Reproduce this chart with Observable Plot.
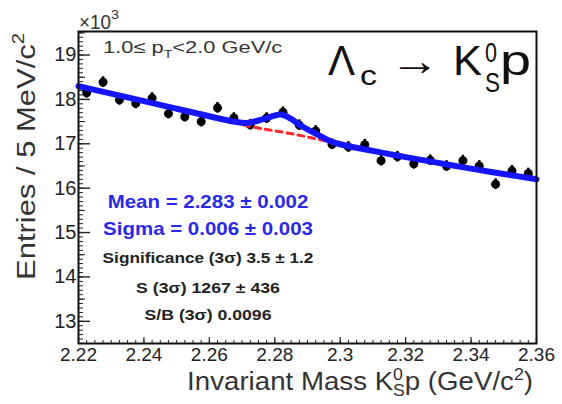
<!DOCTYPE html>
<html><head><meta charset="utf-8">
<script src="https://cdn.jsdelivr.net/npm/d3@7"></script>
<script src="https://cdn.jsdelivr.net/npm/@observablehq/plot@0.6"></script>
<style>body{margin:0;background:#fff}#chart{width:562px;height:404px}</style>
</head><body><div id="chart"></div>
<script>
// ---- data (entries in units of 10^3) ----
const binCenters = [2.2225,2.2275,2.2325,2.2375,2.2425,2.2475,2.2525,2.2575,2.2625,2.2675,2.2725,2.2775,2.2825,2.2875,
                    2.2925,2.2975,2.3025,2.3075,2.3125,2.3175,2.3225,2.3275,2.3325,2.3375,2.3425,2.3475,2.3525,2.3575];
const entries    = [18.15,18.39,17.99,17.91,18.03,17.68,17.61,17.50,17.81,17.58,17.43,17.58,17.71,17.42,
                    17.29,16.99,16.93,16.98,16.62,16.71,16.55,16.63,16.50,16.62,16.50,16.09,16.39,16.33];
const errBar = 0.12;
const fitX = [2.22,2.23,2.24,2.25,2.26,2.2675,2.2715,2.2775,2.2818,2.285,2.2875,2.2925,2.298,2.31,2.32,2.33,2.34,2.35,2.36];
const fitY = [18.30,18.13,17.96,17.79,17.62,17.50,17.47,17.58,17.66,17.56,17.43,17.23,17.03,16.84,16.70,16.57,16.44,16.32,16.20];
const bgX = [2.2705,2.276,2.2825,2.289,2.2945,2.298];
const bgY = [17.42,17.34,17.26,17.17,17.08,17.03];
const xMajorTicks = [2.22,2.24,2.26,2.28,2.30,2.32,2.34,2.36];
const xTickLabels = ["2.22","2.24","2.26","2.28","2.3","2.32","2.34","2.36"];
const yMajorTicks = [13,14,15,16,17,18,19];
const yTickLabels = ["13","14","15","16","17","18","19"];

const points = binCenters.map((x,i)=>({x, y: entries[i]}));
const fit = fitX.map((x,i)=>({x, y: fitY[i]}));
const bg = bgX.map((x,i)=>({x, y: bgY[i]}));

const FONT = "'Liberation Sans', Arial, Helvetica, sans-serif";
const W = 562, H = 404, ML = 78, MR = 26, MT = 31, MB = 61;
const FW = W - ML - MR, FH = H - MT - MB;
const xMinor = d3.range(0, 57).map(i => 2.22 + i*0.0025);
const yMinor = d3.range(0, 71).map(i => 12.5 + i*0.1).filter(v => v <= 19.53);
const yHalf = [12.5,13.5,14.5,15.5,16.5,17.5,18.5,19.5];

const chart = Plot.plot({
  width: W, height: H,
  marginLeft: ML, marginRight: MR, marginTop: MT, marginBottom: MB,
  style: {fontFamily: FONT, color: "#222", background: "#fff", overflow: "visible"},
  x: {domain: [2.22, 2.36]},
  y: {domain: [12.5, 19.53]},
  marks: [
    Plot.tickX(xMinor, {x: d=>d, insetTop: FH-3, stroke: "#222", strokeWidth: 1}),
    Plot.tickX(xMajorTicks, {x: d=>d, insetTop: FH-6, stroke: "#222", strokeWidth: 1.2}),
    Plot.tickY(yMinor, {y: d=>d, insetRight: FW-5, stroke: "#222", strokeWidth: 1}),
    Plot.tickY(yHalf, {y: d=>d, insetRight: FW-7, stroke: "#222", strokeWidth: 1}),
    Plot.tickY(yMajorTicks, {y: d=>d, insetRight: FW-12, stroke: "#222", strokeWidth: 1.4}),
    Plot.axisX({ticks: xMajorTicks, tickFormat: d => xTickLabels[xMajorTicks.indexOf(d)], tickSize: 0, tickPadding: 4, fontSize: 19, label: null}),
    Plot.axisY({ticks: yMajorTicks, tickFormat: d => yTickLabels[yMajorTicks.indexOf(d)], tickSize: 0, tickPadding: 2, fontSize: 20, label: null}),
    Plot.ruleX(points, {x: "x", y1: d => d.y - errBar, y2: d => d.y + errBar, stroke: "#000", strokeWidth: 2.5}),
    Plot.dot(points, {x: "x", y: "y", r: 4.5, fill: "#000"}),
    Plot.line(bg, {x: "x", y: "y", stroke: "#ff2a2a", strokeWidth: 3, strokeDasharray: "6,5", curve: "catmull-rom"}),
    Plot.line(fit, {x: "x", y: "y", stroke: "#1515ff", strokeWidth: 6, curve: "catmull-rom"}),
    Plot.frame({stroke: "#111", strokeWidth: 2})
  ]
});
document.getElementById("chart").append(chart);

// ---- text annotations (rich text, horizontally fitted) ----
function richText({x, y, anchor = "start", width = null, rotate = 0, size = 16, weight = "normal", fill = "#222", parts}) {
  const g = d3.select(chart).append("g").attr("transform", `translate(${x},${y}) rotate(${rotate})`);
  const t = g.append("text").attr("text-anchor", anchor).attr("font-family", FONT)
    .attr("font-size", size).attr("font-weight", weight).attr("fill", fill);
  for (const p of parts) {
    const ts = t.append("tspan").text(p.t);
    if (p.size) ts.attr("font-size", p.size);
    if (p.dy) ts.attr("dy", p.dy);
    if (p.dx) ts.attr("dx", p.dx);
  }
  if (width) {
    const w = t.node().getBBox().width;
    g.attr("transform", `translate(${x},${y}) rotate(${rotate}) scale(${width / w},1)`);
  }
}

// x10^3
richText({x: 79, y: 29, size: 20, width: 32, fill: "#333", parts: [{t: "×10"}]});
richText({x: 111, y: 19, size: 13, width: 8, fill: "#333", parts: [{t: "3"}]});
// pT range
richText({x: 103, y: 53, size: 17, width: 180, fill: "#333", parts: [
  {t: "1.0≤ p"}, {t: "T", size: 11, dy: 5}, {t: "<2.0 GeV/c", dy: -5}]});
// Title
richText({x: 328, y: 75, size: 42, width: 27, fill: "#111", parts: [{t: "Λ"}]});
richText({x: 360, y: 85, size: 28, width: 17, fill: "#111", parts: [{t: "c"}]});
richText({x: 390, y: 75, size: 42, width: 50, fill: "#111", parts: [{t: "→"}]});
richText({x: 453, y: 75, size: 42, width: 29, fill: "#111", parts: [{t: "K"}]});
richText({x: 485, y: 61.5, size: 28, width: 12, fill: "#111", parts: [{t: "0"}]});
richText({x: 485, y: 91.5, size: 28, width: 15, fill: "#111", parts: [{t: "S"}]});
richText({x: 500, y: 75, size: 42, width: 31, fill: "#111", parts: [{t: "p"}]});
// Fit results
richText({x: 208, y: 208, anchor: "middle", size: 18, weight: "bold", fill: "#2a2ae6", width: 201, parts: [{t: "Mean = 2.283 ± 0.002"}]});
richText({x: 208, y: 235, anchor: "middle", size: 18, weight: "bold", fill: "#2a2ae6", width: 210, parts: [{t: "Sigma = 0.006 ± 0.003"}]});
richText({x: 208, y: 263, anchor: "middle", size: 15, weight: "bold", fill: "#222", width: 211, parts: [{t: "Significance (3σ) 3.5 ± 1.2"}]});
richText({x: 208, y: 293, anchor: "middle", size: 15, weight: "bold", fill: "#222", width: 144, parts: [{t: "S (3σ) 1267 ± 436"}]});
richText({x: 208, y: 320, anchor: "middle", size: 15, weight: "bold", fill: "#222", width: 127, parts: [{t: "S/B (3σ) 0.0096"}]});
// Axis titles
richText({x: 533, y: 390, anchor: "end", size: 25, width: 346, fill: "#333", parts: [
  {t: "Invariant Mass K"}, {t: "0", size: 16, dy: -10}, {t: "S", size: 16, dx: -9, dy: 16},
  {t: "p (GeV/c", dy: -6}, {t: "2", size: 16, dy: -10}, {t: ")", dy: 10}]});
richText({x: 35, y: 33, anchor: "end", rotate: -90, size: 26, width: 247, fill: "#333", parts: [
  {t: "Entries / 5 MeV/c"}, {t: "2", size: 17, dy: -11}]});
</script></body></html>
